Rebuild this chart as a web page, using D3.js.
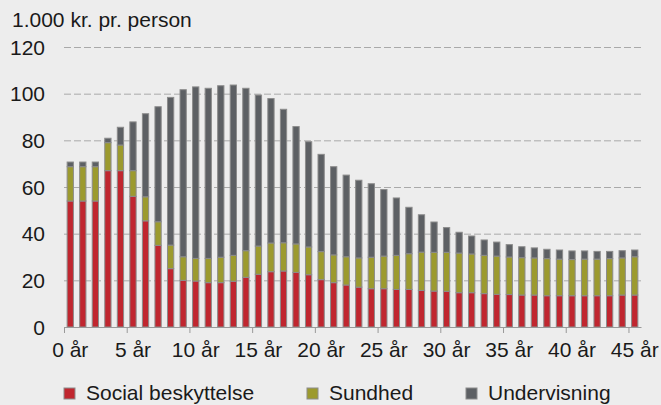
<!DOCTYPE html>
<html>
<head>
<meta charset="utf-8">
<script src="https://cdn.jsdelivr.net/npm/d3@7"></script>
<style>
  html, body { margin: 0; padding: 0; background: #ededed; }
  svg { display: block; font-family: "Liberation Sans", Arial, sans-serif; }
</style>
</head>
<body>
<div id="chart"></div>
<script>
// Ages 0..45
const ages = d3.range(0, 46);

// 1.000 kr. pr. person
const social = [54, 54, 54, 67, 67, 56, 45.5, 35, 25, 20, 19.7, 19, 19, 19.6, 21.3, 22.6, 23.7, 24, 23.4, 22.4,
  20.3, 19, 18, 17.1, 16.4, 16.4, 16.1, 16.1, 15.7, 15.4, 15.3, 14.7, 14.7, 14.3, 14, 13.9, 13.7, 13.7, 13.4, 13.4,
  13.4, 13.4, 13.4, 13.4, 13.7, 13.7];
const sundhed = [14.7, 14.7, 14.7, 12, 11, 11, 10.3, 10.1, 10.1, 10.1, 9.7, 10.4, 10.9, 11.1, 11.4, 12.1, 12.3, 12.1, 12.2, 11.9,
  12, 11.9, 12.1, 12.5, 13.5, 14, 14.6, 15.3, 16.4, 16.6, 16.7, 17, 16.6, 16.4, 16.4, 16.1, 16, 15.9, 15.9, 15.7,
  15.5, 15.7, 15.7, 15.9, 15.9, 16.4];
const undervisning = [2, 2, 2, 1.9, 7.6, 20.9, 35.6, 49.3, 63.3, 71.6, 73.5, 72.9, 73.5, 73, 69.6, 64.7, 61.9, 57.2, 50.3, 45.1,
  41.7, 37.8, 35, 33.3, 31.5, 28.5, 24.6, 19.9, 16, 13, 10.6, 8.9, 7.7, 6.6, 6, 5.3, 4.7, 4.3, 4, 3.9,
  3.7, 3.5, 3.3, 3.1, 3.1, 2.9];

const yTicks = [0, 20, 40, 60, 80, 100, 120];
const xTickAges = [0, 5, 10, 15, 20, 25, 30, 35, 40, 45];

const seriesNames = ["Social beskyttelse", "Sundhed", "Undervisning"];
const colors = ["#c0262f", "#9c9a2e", "#5d6064"];

const fontSize = 21;

function draw() {
  const W = 661, H = 405;
  const left = 64, right = 641, top = 47, bottom = 327;

  const svg = d3.select("#chart").append("svg")
    .attr("width", W)
    .attr("height", H);

  const rows = ages.map((a, i) => ({
    age: a,
    "Social beskyttelse": social[i],
    "Sundhed": sundhed[i],
    "Undervisning": undervisning[i]
  }));

  const x = d3.scaleBand()
    .domain(ages)
    .range([left, right])
    .paddingInner(0.5)
    .paddingOuter(0.25);

  const xl = d3.scaleLinear()
    .domain([0, ages.length])
    .range([left, right]);

  const y = d3.scaleLinear()
    .domain([0, 120])
    .range([bottom, top]);

  // gridlines
  svg.append("g")
    .selectAll("line")
    .data(yTicks.filter(d => d > 0))
    .enter()
    .append("line")
    .attr("x1", left)
    .attr("x2", right)
    .attr("y1", d => y(d) + 0.5)
    .attr("y2", d => y(d) + 0.5)
    .attr("stroke", "#a9a9a9")
    .attr("stroke-width", 1)
    .attr("stroke-dasharray", "7,3");

  // y labels
  svg.append("g")
    .selectAll("text")
    .data(yTicks)
    .enter()
    .append("text")
    .attr("x", 45)
    .attr("y", d => y(d))
    .attr("dy", "0.36em")
    .attr("text-anchor", "end")
    .attr("font-size", fontSize)
    .attr("fill", "#1a1a1a")
    .text(d => d);

  // title
  svg.append("text")
    .attr("x", 12)
    .attr("y", 27)
    .attr("font-size", fontSize)
    .attr("fill", "#1a1a1a")
    .text("1.000 kr. pr. person");

  // stacked bars
  const stacked = d3.stack().keys(seriesNames)(rows);

  svg.append("g")
    .selectAll("g")
    .data(stacked)
    .enter()
    .append("g")
    .attr("fill", (d, i) => colors[i])
    .selectAll("rect")
    .data(d => d)
    .enter()
    .append("rect")
    .attr("x", d => x(d.data.age))
    .attr("width", x.bandwidth())
    .attr("y", d => y(d[1]))
    .attr("height", d => y(d[0]) - y(d[1]))
    .attr("stroke", "#8c8c8c")
    .attr("stroke-width", 1);

  // x axis: ticks at band boundaries
  const axisG = svg.append("g")
    .attr("transform", `translate(0,${bottom})`)
    .call(d3.axisBottom(xl)
      .tickValues(xTickAges)
      .tickFormat("")
      .tickSize(6)
      .tickSizeOuter(0));
  axisG.selectAll("path, line").attr("stroke", "#999");

  // x labels at band centres
  const labelG = svg.append("g")
    .attr("transform", `translate(0,${bottom})`)
    .call(d3.axisBottom(x)
      .tickValues(xTickAges)
      .tickFormat(d => `${d} år`)
      .tickSize(0)
      .tickPadding(15));
  labelG.select(".domain").remove();
  labelG.selectAll("text")
    .attr("font-size", fontSize)
    .attr("font-family", "Liberation Sans, Arial, sans-serif")
    .attr("fill", "#1a1a1a");

  // legend
  const legendX = [64, 307, 466];
  const legend = svg.append("g")
    .selectAll("g")
    .data(seriesNames)
    .enter()
    .append("g")
    .attr("transform", (d, i) => `translate(${legendX[i]},388)`);

  legend.append("rect")
    .attr("width", 11)
    .attr("height", 11)
    .attr("fill", (d, i) => colors[i])
    .attr("stroke", "#8c8c8c")
    .attr("stroke-width", 1);

  legend.append("text")
    .attr("x", 22)
    .attr("y", 12)
    .attr("font-size", fontSize)
    .attr("fill", "#1a1a1a")
    .text(d => d);
}

draw();
</script>
</body>
</html>
